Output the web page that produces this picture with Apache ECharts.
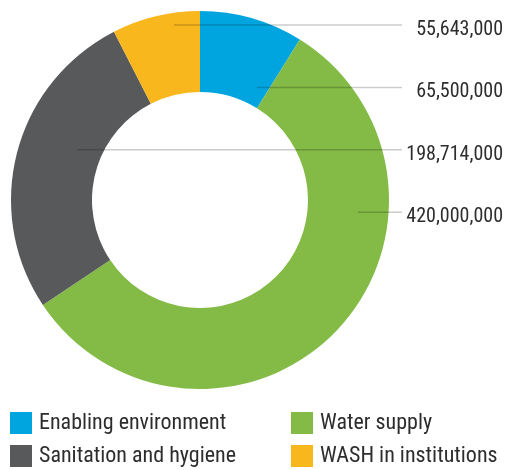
<!DOCTYPE html>
<html>
<head>
<meta charset="utf-8">
<style>html,body{margin:0;padding:0;background:#fff;}#chart{width:506px;height:470px;}</style>
<script src="https://cdn.jsdelivr.net/npm/echarts@6/dist/echarts.min.js"></script>
</head>
<body>
<div id="chart"></div>
<script>
// Data
const categories = ['Enabling environment', 'Water supply', 'Sanitation and hygiene', 'WASH in institutions'];
const values = [65500000, 420000000, 198714000, 55643000];
const colors = ['#00a5e0', '#83bb46', '#58595b', '#f9b71e'];

// Layout constants (label positioning only)
const LABEL_X = 503;
const LABEL_TOP = 25;
const LABEL_STEP = 62.4;
const LABEL_DY = 5;
const LINE_END_X = 402;
const LINE_START_X = [257, 358, 77, 174];
const FONT = '"Roboto Condensed", "Liberation Sans Narrow", sans-serif';

const sorted = values.slice().sort((a, b) => a - b);
const rankOf = values.map(v => sorted.indexOf(v));

const legendBase = {
  orient: 'vertical', top: 412, padding: 0, height: 80,
  itemWidth: 22, itemHeight: 22, itemGap: 11, icon: 'rect',
  textStyle: {fontFamily: FONT, fontSize: 22, color: '#2d2d2d', padding: [0, 0, 0, 2]}
};

const pieBase = {
  type: 'pie',
  center: [200, 200],
  radius: [108, 189],
  startAngle: 90,
  clockwise: true,
  avoidLabelOverlap: false
};

const chart = echarts.init(document.getElementById('chart'), null, {renderer: 'canvas'});
chart.setOption({
  animation: false,
  color: colors,
  legend: [
    Object.assign({}, legendBase, {data: [categories[0], categories[2]], left: 10}),
    Object.assign({}, legendBase, {data: [categories[1], categories[3]], left: 291})
  ],
  series: [
    Object.assign({}, pieBase, {
      name: 'sectors',
      data: categories.map((c, i) => ({name: c, value: values[i]})),
      label: {show: false},
      labelLine: {show: false},
      itemStyle: {borderWidth: 0}
    }),
    Object.assign({}, pieBase, {
      name: 'labels',
      z: 5,
      silent: true,
      legendHoverLink: false,
      data: categories.map((c, i) => ({name: c, value: values[i]})),
      itemStyle: {color: 'rgba(0,0,0,0)', borderWidth: 0},
      label: {
        show: true,
        formatter: p => p.value.toLocaleString('en-US'),
        fontFamily: FONT, fontSize: 20, color: '#2d2d2d'
      },
      labelLine: {show: true, lineStyle: {color: 'rgba(0,0,0,0.2)', width: 1.5}},
      labelLayout: function (params) {
        const i = params.dataIndex;
        const y = LABEL_TOP + rankOf[i] * LABEL_STEP;
        return {
          x: LABEL_X, y: y + LABEL_DY, align: 'right', verticalAlign: 'middle',
          labelLinePoints: [[LINE_START_X[i], y], [(LINE_START_X[i] + LINE_END_X) / 2, y], [LINE_END_X, y]]
        };
      }
    })
  ]
});
</script>
</body>
</html>
